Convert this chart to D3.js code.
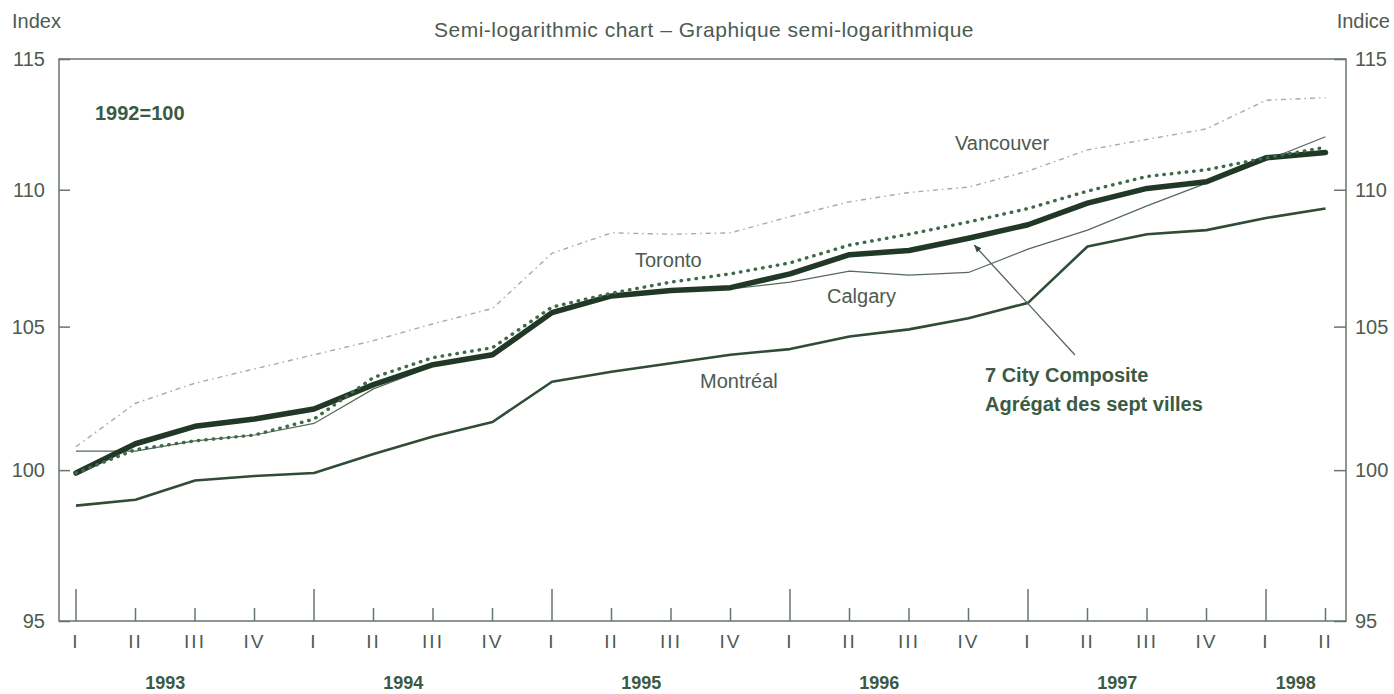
<!DOCTYPE html>
<html>
<head>
<meta charset="utf-8">
<script src="https://cdn.jsdelivr.net/npm/d3@7"></script>
<style>
  body { margin: 0; background: #fff; }
  svg text { font-family: "Liberation Sans", Arial, Helvetica, sans-serif; }
</style>
</head>
<body>
<svg id="chart" width="1394" height="694"></svg>
<script>
// quarterly index values, 1993 Q1 to 1998 Q2 (1992=100)
const quarters = ["I", "II", "III", "IV", "I", "II", "III", "IV", "I", "II", "III", "IV",
  "I", "II", "III", "IV", "I", "II", "III", "IV", "I", "II"];
const years = ["1993", "1994", "1995", "1996", "1997", "1998"];
const yTicks = [95, 100, 105, 110, 115];

const composite = [99.9, 100.9, 101.5, 101.75, 102.1, 102.95, 103.65, 104.0, 105.5, 106.1, 106.3,
  106.4, 106.9, 107.6, 107.75, 108.2, 108.7, 109.5, 110.05, 110.3, 111.2, 111.4];
const toronto = [99.9, 100.7, 101.0, 101.2, 101.75, 103.2, 103.9, 104.25, 105.7, 106.2, 106.6,
  106.9, 107.3, 107.95, 108.35, 108.8, 109.3, 109.95, 110.5, 110.75, 111.2, 111.6];
const calgary = [100.65, 100.65, 101.0, 101.2, 101.6, 102.8, 103.6, 104.0, 105.5, 106.1, 106.3,
  106.35, 106.6, 107.0, 106.85, 106.95, 107.8, 108.5, 109.4, 110.25, 111.1, 112.0];
const montreal = [98.8, 99.0, 99.65, 99.8, 99.9, 100.55, 101.15, 101.65, 103.05, 103.4, 103.7,
  104.0, 104.2, 104.65, 104.9, 105.3, 105.85, 107.9, 108.35, 108.5, 108.95, 109.3];
const vancouver = [100.8, 102.3, 103.0, 103.5, 104.0, 104.5, 105.1, 105.65, 107.65, 108.4, 108.35,
  108.4, 109.0, 109.55, 109.9, 110.1, 110.7, 111.5, 111.9, 112.3, 113.4, 113.5];

const textColor = "#4d5b51";
const axisColor = "#66766b";
const boldColor = "#3b5a43";

const svg = d3.select("#chart");
const plotLeft = 59, plotRight = 1346, plotTop = 59, plotBottom = 621;

const x = d3.scaleLinear().domain([0, quarters.length - 1]).range([76, 1325.5]);
const y = d3.scaleLog().domain([95, 115]).range([plotBottom, plotTop]);

// frame
svg.append("rect")
  .attr("x", plotLeft).attr("y", plotTop)
  .attr("width", plotRight - plotLeft).attr("height", plotBottom - plotTop)
  .attr("fill", "none")
  .attr("stroke", axisColor)
  .attr("stroke-width", 1.5);

// y axes, ticks pointing inside
const yLeft = d3.axisRight(y).tickValues(yTicks).tickSize(11).tickFormat("");
const yRight = d3.axisLeft(y).tickValues(yTicks).tickSize(12).tickFormat("");
svg.append("g").attr("transform", `translate(${plotLeft},0)`).call(yLeft)
  .call(g => g.select(".domain").remove());
svg.append("g").attr("transform", `translate(${plotRight},0)`).call(yRight)
  .call(g => g.select(".domain").remove());
svg.selectAll(".tick line").attr("stroke", axisColor).attr("stroke-width", 1.5);

svg.append("g").selectAll("text")
  .data(yTicks)
  .enter()
  .append("text")
  .attr("x", 45)
  .attr("y", d => y(d) + 7)
  .attr("text-anchor", "end")
  .attr("font-size", 20)
  .attr("fill", textColor)
  .text(d => d);

svg.append("g").selectAll("text")
  .data(yTicks)
  .enter()
  .append("text")
  .attr("x", 1355)
  .attr("y", d => y(d) + 7)
  .attr("font-size", 20)
  .attr("fill", textColor)
  .text(d => d);

// quarter ticks on the bottom
svg.append("g").selectAll("line")
  .data(quarters)
  .enter()
  .append("line")
  .attr("x1", (d, i) => x(i))
  .attr("x2", (d, i) => x(i))
  .attr("y1", plotBottom)
  .attr("y2", d => d === "I" ? plotBottom - 32 : plotBottom - 13)
  .attr("stroke", axisColor)
  .attr("stroke-width", 1.5);

svg.append("g").selectAll("text")
  .data(quarters)
  .enter()
  .append("text")
  .attr("x", (d, i) => x(i))
  .attr("y", 648)
  .attr("text-anchor", "middle")
  .attr("font-size", 19)
  .attr("letter-spacing", 2)
  .attr("fill", textColor)
  .text(d => d);

// year labels centred on their quarters
const yearPos = years.map((yr, k) => {
  const idx = quarters.map((q, i) => i).filter(i => Math.floor(i / 4) === k);
  return (d3.min(idx) + d3.max(idx)) / 2;
});
svg.append("g").selectAll("text")
  .data(years)
  .enter()
  .append("text")
  .attr("x", (d, k) => x(yearPos[k]))
  .attr("y", 689)
  .attr("text-anchor", "middle")
  .attr("font-size", 18)
  .attr("font-weight", "bold")
  .attr("fill", boldColor)
  .text(d => d);

// series
const line = d3.line()
  .x((d, i) => x(i))
  .y(d => y(d));

svg.append("path")
  .datum(vancouver)
  .attr("fill", "none")
  .attr("stroke", "#a3aea6")
  .attr("stroke-width", 1.4)
  .attr("stroke-dasharray", "5,4,1.5,4")
  .attr("d", line);

svg.append("path")
  .datum(montreal)
  .attr("fill", "none")
  .attr("stroke", "#2f4c37")
  .attr("stroke-width", 2.6)
  .attr("stroke-linejoin", "round")
  .attr("d", line);

svg.append("path")
  .datum(calgary)
  .attr("fill", "none")
  .attr("stroke", "#55695a")
  .attr("stroke-width", 1.2)
  .attr("d", line);

svg.append("path")
  .datum(composite)
  .attr("fill", "none")
  .attr("stroke", "#223827")
  .attr("stroke-width", 5.5)
  .attr("stroke-linejoin", "round")
  .attr("stroke-linecap", "round")
  .attr("d", line);

svg.append("path")
  .datum(toronto)
  .attr("fill", "none")
  .attr("stroke", "#3d6a49")
  .attr("stroke-width", 3.4)
  .attr("stroke-linecap", "round")
  .attr("stroke-dasharray", "0.5,7")
  .attr("d", line);

// headings
svg.append("text")
  .attr("x", 12).attr("y", 28)
  .attr("font-size", 20)
  .attr("fill", textColor)
  .text("Index");

svg.append("text")
  .attr("x", 1390).attr("y", 28)
  .attr("text-anchor", "end")
  .attr("font-size", 20)
  .attr("fill", textColor)
  .text("Indice");

svg.append("text")
  .attr("x", 704).attr("y", 37)
  .attr("text-anchor", "middle")
  .attr("font-size", 21)
  .attr("letter-spacing", 0.5)
  .attr("fill", textColor)
  .text("Semi-logarithmic chart – Graphique semi-logarithmique");

svg.append("text")
  .attr("x", 95).attr("y", 120)
  .attr("font-size", 20)
  .attr("font-weight", "bold")
  .attr("fill", boldColor)
  .text("1992=100");

// series labels
const labels = [
  { t: "Vancouver", x: 955, y: 150 },
  { t: "Toronto", x: 635, y: 267 },
  { t: "Calgary", x: 827, y: 303 },
  { t: "Montréal", x: 700, y: 388 }
];
svg.append("g").selectAll("text")
  .data(labels)
  .enter()
  .append("text")
  .attr("x", d => d.x)
  .attr("y", d => d.y)
  .attr("font-size", 20)
  .attr("fill", textColor)
  .text(d => d.t);

svg.append("text")
  .attr("x", 985).attr("y", 382)
  .attr("font-size", 20)
  .attr("font-weight", "bold")
  .attr("fill", boldColor)
  .text("7 City Composite");

svg.append("text")
  .attr("x", 985).attr("y", 411)
  .attr("font-size", 20)
  .attr("font-weight", "bold")
  .attr("fill", boldColor)
  .text("Agrégat des sept villes");

// arrow pointing at the composite line
svg.append("defs").append("marker")
  .attr("id", "head")
  .attr("viewBox", "0 0 10 10")
  .attr("refX", 9).attr("refY", 5)
  .attr("markerWidth", 6).attr("markerHeight", 6)
  .attr("orient", "auto")
  .append("path")
  .attr("d", "M0,1 L10,5 L0,9 z")
  .attr("fill", "#3a4a3e");

svg.append("line")
  .attr("x1", 1075).attr("y1", 355)
  .attr("x2", x(15.1)).attr("y2", y(composite[15]) + 7)
  .attr("stroke", "#55655a")
  .attr("stroke-width", 1.3)
  .attr("marker-end", "url(#head)");
</script>
</body>
</html>
